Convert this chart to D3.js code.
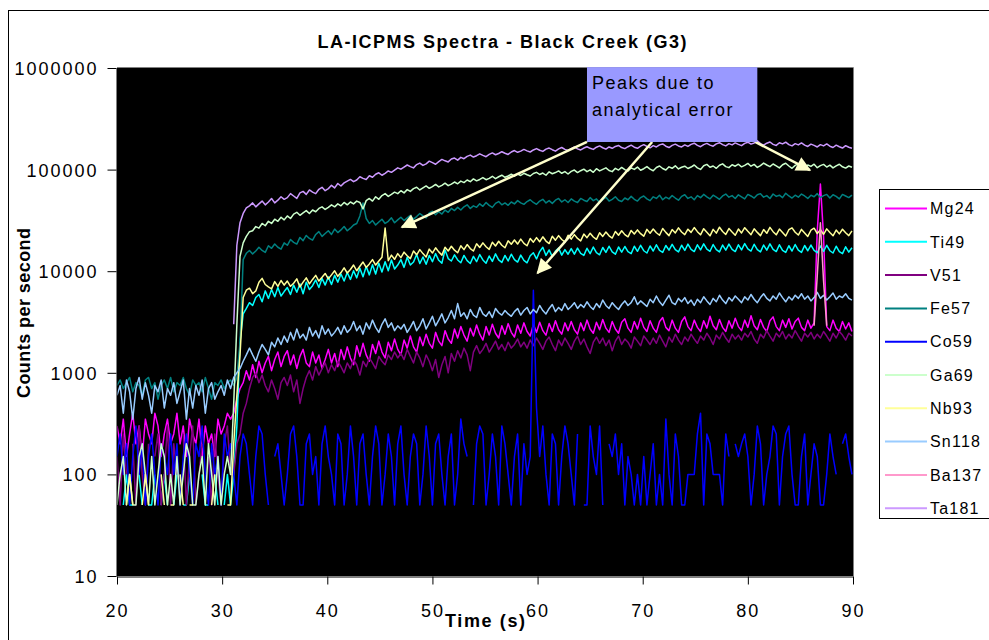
<!DOCTYPE html>
<html>
<head>
<meta charset="utf-8">
<title>LA-ICPMS Spectra - Black Creek (G3)</title>
<script src="https://cdn.jsdelivr.net/npm/d3@7"></script>
<style>
  html, body { margin: 0; padding: 0; background: #fff; }
  svg { display: block; font-family: "Liberation Sans", Arial, Helvetica, sans-serif; }
</style>
</head>
<body>
<svg id="chart" width="989" height="640"></svg>
<script>
// Acquisition clock: one sweep every 0.3 s starting at 20 s.
const sweepStart = 20.0;
const sweepStep = 0.3;

const xTicks = [20, 30, 40, 50, 60, 70, 80, 90];
const yTicks = [10, 100, 1000, 10000, 100000, 1000000];

const isotopes = ["Mg24", "Ti49", "V51", "Fe57", "Co59", "Ga69", "Nb93", "Sn118", "Ba137", "Ta181"];
const isotopeColors = ["#FF00FF", "#00FFFF", "#800080", "#008080", "#0000FF",
                       "#CCFFCC", "#FFFF99", "#99CCFF", "#FF99CC", "#CC99FF"];

// Counts per second for each sweep (0 = no counts, not drawn on the log axis).
const mg24 = [
  300,200,350,150,250,400,200,300,150,350,250,200,400,300,150,250,350,200,
  250,400,200,300,150,350,250,200,350,150,300,200,250,150,350,250,300,400,
  350,400,550,700,800,1050,850,1200,900,1300,1000,1250,1450,1050,1350,1600,1150,1450,
  1650,1200,1500,1100,1450,1700,1250,1150,1600,1250,1500,1100,1350,1700,1250,1550,1150,1700,
  1350,1800,1400,1200,1850,1450,1950,1500,1300,1900,1550,2050,1600,1400,2000,1650,2150,1700,
  1500,2100,1750,2300,1800,1600,2250,1850,2400,1950,1750,2500,2050,1850,2600,2150,1950,2700,
  2200,2850,2350,2050,2750,2300,2950,2400,2100,2850,2350,3000,2450,2200,2900,2400,3050,2500,
  2250,2950,2450,3100,2550,2300,3000,2500,3150,2600,2350,3050,2550,3250,2650,2400,3100,2600,
  3200,2650,2400,3100,2600,3300,2700,2450,3150,2650,3350,2750,2500,3200,2700,2450,3150,3400,
  2750,2500,3200,2700,3450,2800,2550,3250,2750,2500,3200,3500,2800,2600,3300,2750,2500,3200,
  3550,2850,2600,3300,2800,2550,3250,2750,3600,2900,2650,3350,2800,2550,3250,2750,3450,2850,
  2600,3300,2800,3650,2900,2650,3350,2800,2550,3250,3550,2850,2600,3300,2800,3400,2700,3200,
  3450,2800,2600,3300,2750,3100,25000,72000,22000,2850,2600,3300,2750,2550,3200,2700,3100,2550
];

const ti49 = [
  50,0,50,100,50,50,0,100,50,0,50,50,100,0,50,100,50,0,
  50,100,0,50,50,100,0,50,0,100,50,50,0,100,50,0,50,100,
  50,100,300,2000,3800,4300,4900,4600,5500,5900,5000,6400,5400,6600,5600,6900,5700,6300,
  6900,5900,7300,6200,7500,6000,7800,6600,7200,8200,6900,8500,7300,8800,7400,9100,7800,9400,
  8000,9700,8300,10100,8600,10700,8800,11100,9200,11600,9400,12000,9800,12400,10100,12900,10500,11500,
  13000,10900,13700,11500,12300,14600,11900,13800,11700,14300,12400,14900,12800,12000,16200,13300,12600,14500,
  12900,12100,14300,12700,11900,14000,12400,14600,12900,12000,14100,12500,14800,12900,12200,14300,12600,14700,
  13000,12300,14400,12800,12100,14200,15200,13200,15600,17200,14300,16200,13900,15800,16900,14400,16300,14700,
  16700,14700,16900,15000,14300,16800,14900,17300,15200,14500,17100,15300,17600,15500,14700,17300,15400,17500,
  15600,14900,17600,15700,18000,15900,15100,17700,15800,18200,16000,15300,17900,16100,18400,16300,15500,18000,
  16000,18500,16400,15600,18200,16200,18600,16500,15700,18300,16300,15500,18100,16100,18500,16400,15600,18200,
  16200,18700,16600,15800,18400,16300,15500,18100,16100,18600,16400,15600,18200,16000,15300,17800,15800,18300,
  16100,15300,17900,15900,18100,16000,15200,17700,15700,18000,15900,15100,17600,15600,14900,17400,15400,17000
];

const v51 = [
  150,50,250,100,0,200,50,300,100,50,200,0,150,250,50,100,300,50,
  200,100,0,250,50,150,300,50,100,200,0,150,50,250,100,50,200,300,
  100,100,200,250,400,500,700,900,1000,800,950,750,650,850,700,550,800,900,
  750,950,650,850,500,700,900,1050,850,1150,950,1100,1250,1000,1200,1050,1300,1150,
  1000,1250,1100,1350,1200,950,1300,1150,1400,1250,1100,1450,1300,1200,1500,1350,1600,1400,
  1550,1350,1700,1450,1250,1600,1400,1150,1500,1300,1050,1350,900,1200,1450,1000,1550,1300,
  1650,1400,1750,1500,1050,1600,1850,1550,1700,1950,1600,1800,2050,1700,1900,1650,2000,1750,
  1900,2150,1800,2000,1750,2100,1850,2200,1950,1700,2050,2250,1900,1650,2100,1850,2200,1950,
  1700,2050,2300,1900,2150,1800,1550,2000,2250,1950,2200,1850,2100,1650,2050,2300,1900,2150,
  2000,1750,2250,2050,1850,2300,2100,1900,2200,1950,2350,2050,1800,2250,2000,2400,2100,1900,
  2250,2050,2400,2150,1950,2300,2100,2450,2200,1900,2350,2150,2500,2200,2000,2400,2150,2350,
  2100,2450,2250,2550,2150,1950,2400,2200,2600,2300,2050,2450,2250,2550,2150,2400,2200,2600,
  2300,2050,2450,2250,2500,2150,2400,2200,2550,2300,2050,2450,2200,2550,2350,2100,2450,2300
];

const fe57 = [
  750,850,700,800,900,650,800,750,600,850,900,700,800,550,750,850,700,900,
  650,800,750,900,700,600,850,750,800,650,900,700,550,800,750,850,700,800,
  850,750,900,2000,13000,15000,16000,14800,15800,17200,16000,15300,17800,16800,18500,17200,16500,19000,
  18000,20500,19200,18500,21500,20000,22500,21000,20200,23000,24500,22000,23500,25000,23000,26000,24000,25500,
  27500,25000,26500,28500,29500,35000,47000,33000,29500,31500,28500,30500,32500,29500,31000,33500,30000,32000,
  34000,31500,33500,35500,32500,34500,37000,35000,33500,37500,39000,36000,38500,36500,40000,38000,41500,39500,
  42500,40000,43000,45000,41500,44000,42500,46000,43500,47500,44500,42500,46500,48500,45000,47000,44500,48000,
  46000,49500,47000,45500,48500,50500,47500,45500,49000,51000,47000,49500,46500,50000,52000,48000,50500,47500,
  51500,49000,47500,52000,50000,48500,53000,49500,51500,47500,50500,53500,49000,51000,54000,50000,48500,52500,
  50500,54500,51000,49000,53000,55000,51500,49500,54000,52000,56000,50500,53500,51500,55500,52500,50000,54500,
  56500,52000,54000,50500,55500,53000,57000,54000,51500,56000,53500,51000,55000,57500,53500,55500,52000,56500,
  54000,51500,57000,55000,52500,56500,58000,53500,55500,52000,57500,54500,56000,53000,58500,55000,52500,56000,
  53500,57500,55000,52000,56000,54000,58000,53000,55500,57000,52500,56500,54500,51500,57000,55000,53000,56000
];

const co59 = [
  150,250,100,200,50,150,300,100,200,50,150,250,100,50,200,150,100,250,
  100,200,50,150,250,100,50,200,150,300,100,50,200,100,150,50,250,150,
  200,100,50,150,250,200,100,50,150,300,250,100,50,0,150,200,100,50,
  100,250,300,150,50,50,200,250,100,150,50,200,300,150,100,50,250,200,
  50,100,300,150,50,200,250,100,50,150,300,200,50,100,250,150,50,200,
  300,100,50,150,250,200,50,100,300,150,50,200,250,100,50,150,250,50,
  100,350,200,150,0,50,200,300,250,50,100,250,150,50,300,200,100,50,
  150,250,50,200,100,150,6500,450,150,300,100,50,250,200,50,150,300,200,
  100,50,250,0,50,50,300,150,100,300,50,0,200,150,250,100,200,50,
  150,100,50,100,50,150,50,100,200,50,100,50,350,100,50,250,150,50,
  50,100,100,100,250,400,50,250,200,100,100,100,50,250,150,0,200,150,
  200,250,150,50,100,300,200,50,100,150,300,250,50,150,250,300,100,50,
  50,150,250,50,100,200,150,50,50,100,250,150,100,0,200,250,150,100
];

const ga69 = [
  50,100,150,50,100,50,50,150,200,100,50,150,50,100,200,150,50,100,
  50,150,50,100,200,150,50,50,100,150,50,200,100,50,150,50,100,150,
  100,500,3000,14000,19000,22000,24500,25000,27500,26500,29500,28000,31000,29500,32500,31000,34000,32000,
  35000,33000,36500,38000,35500,37500,39500,37000,40000,38500,41500,43000,40500,42500,45000,43000,46000,44000,
  47500,45000,48000,46000,49000,47500,41000,49500,52000,49000,54000,51000,55500,58000,54500,57000,60000,58000,
  62000,59000,63500,61000,65000,67000,63000,66000,69000,65500,68000,71500,67500,70000,73500,69500,72000,75500,
  72500,77000,74500,79000,76000,81000,77500,80000,83500,79500,82000,86000,81500,85000,88000,84000,86500,90000,
  86000,90500,87500,92000,89000,86500,91500,94000,89500,92500,88000,95000,91000,93500,97000,92000,95500,90500,
  96000,99000,93500,97500,101000,95500,99500,94000,102000,97000,100500,104000,98000,95500,103000,99000,105000,100000,
  97000,104000,100500,106000,98500,102000,107000,101000,97500,105000,108500,102500,99000,106500,103000,109000,101500,105500,
  108000,102500,106000,111000,104000,100500,109000,112500,105500,108500,103000,110500,114000,107000,104500,111500,108000,113000,
  106500,110000,115000,108000,112500,105000,109500,116000,111000,107000,113500,109000,104000,111500,115500,108500,103000,110000,
  114000,108500,105000,111000,107500,113000,104500,109500,112500,106000,110500,104000,109000,113000,106500,103500,108500,105500
];

const nb93 = [
  0,50,0,50,100,50,0,0,50,100,50,0,50,0,100,50,0,50,
  50,0,100,50,0,50,50,0,100,0,50,0,50,100,0,50,0,50,
  50,200,600,1500,5500,6500,6800,6000,6400,7800,8500,7400,7000,6700,7900,7100,8100,7300,
  8000,7100,7600,8400,7000,7800,8600,7500,8300,9100,8000,8700,9500,8400,9200,10100,8900,9700,
  10800,9600,10400,11500,10100,11200,12300,10900,11800,13000,11500,12600,13700,26600,12700,14400,13100,14900,
  13600,15400,14200,13300,15800,14500,16300,14900,13800,16500,15100,17000,15500,14400,17200,15800,17600,16100,
  15200,17800,16300,18300,16700,15800,18600,17100,19000,17400,16400,19300,17700,19700,18000,17000,19900,18400,
  20300,18500,20700,18800,17800,21000,19300,21400,19500,21800,19800,18700,22100,20200,22400,20500,19400,22600,
  20700,22900,21000,19900,23200,21400,23600,21700,20600,23900,22000,24300,22300,21200,24600,22600,25000,22900,
  21800,25200,23200,25500,23400,22100,25800,23600,26000,23900,22600,26300,24100,22400,25700,23800,26700,24300,
  22900,25900,24100,26900,24500,22800,26200,24200,22300,25800,23700,27100,24600,23000,26300,24300,22600,26000,
  23800,26800,24700,22900,26100,24100,22400,25700,23600,27000,24500,22800,26000,24000,22200,25600,26700,24200,
  22700,25800,23800,22000,25300,26500,23500,25600,23100,26100,24000,22300,25400,23300,25900,23900,22400,24900
];

const sn118 = [
  600,750,400,850,650,350,700,900,550,800,600,400,750,650,850,450,700,600,
  800,500,650,850,350,700,450,750,600,850,400,700,800,550,650,750,600,850,
  700,900,1000,1100,1300,1500,1750,1500,1300,1600,1900,1700,1500,2000,1800,2200,1900,2300,
  2000,2500,2100,2700,2200,2400,2100,2800,2300,2600,2200,2900,2400,2700,2300,2500,2800,2400,
  2900,2500,2700,3200,2600,2900,2400,3100,2700,3300,2800,2500,3000,3400,2800,3100,2600,2900,
  2700,3000,2500,2800,3200,2600,2900,3400,2700,3100,3600,2900,3300,3800,3100,3500,4100,3400,
  4800,3600,3900,3400,4200,3700,3500,4400,3800,3600,4000,3500,4300,3900,3700,4100,3800,3600,
  4000,4300,3700,4100,4400,3800,4200,3900,4600,4100,3800,4300,4700,4000,4400,4100,4800,4200,
  4500,4900,4300,4700,4400,5000,4500,4200,4800,4400,5200,4600,4300,4900,4500,4200,4700,5100,
  4600,4900,5600,4700,5100,4800,4500,5300,4900,5700,5000,4600,5200,5800,4900,4700,5400,5000,
  5500,4800,5200,4600,5300,4900,5600,5100,4700,5400,5000,5800,5200,4800,5500,5100,5700,5300,
  4900,5600,5200,5900,5300,4900,5500,6000,5400,5100,5700,5300,6100,5500,5000,5600,5200,5800,
  5400,6000,5300,5700,5100,5500,6200,5400,5800,5200,5600,6100,5300,5700,5500,6000,5400,5200
];

const ba137 = [
  0,0,0,0,0,0,0,0,0,0,0,0,0,0,0,0,0,0,
  0,0,0,0,0,0,0,0,0,0,0,0,0,0,0,0,0,0,
  0,0,0,0,0,0,0,0,0,0,0,0,0,0,0,0,0,0,
  0,0,0,0,0,0,0,0,0,0,0,0,0,0,0,0,0,0,
  0,0,0,0,0,0,0,0,0,0,0,0,0,0,0,0,0,0,
  0,0,0,0,0,0,0,0,0,0,0,0,0,0,0,0,0,0,
  0,0,0,0,0,0,0,0,0,0,0,0,0,0,0,0,0,0,
  0,0,0,0,0,0,0,0,0,0,0,0,0,0,0,0,0,0,
  0,0,0,0,0,0,0,0,0,0,0,0,0,0,0,0,0,0,
  0,0,0,0,0,0,0,0,0,0,0,0,0,0,0,0,0,0,
  0,0,0,0,0,0,0,0,0,0,0,0,0,0,0,0,0,0,
  0,0,0,0,0,0,0,0,0,0,0,0,0,0,0,0,0,0,
  0,0,0,0,0,2900,9000,30000,8000,2900,0,0,0,0,0,0,0,0
];

const ta181 = [
  0,0,0,0,0,0,0,0,0,0,0,0,0,0,0,0,0,0,
  0,0,0,0,0,0,0,0,0,0,0,0,0,0,0,0,0,0,
  0,3000,18000,30000,37000,42000,44000,47000,43000,46000,49000,45000,48000,52000,47000,50000,54000,51000,
  53000,58000,55000,52000,59000,61000,57000,63000,60000,58000,64000,67000,62000,65000,70000,66000,73000,69000,
  74000,77000,80000,76000,79000,85000,82000,80000,87000,84000,90000,93000,88000,92000,97000,94000,99000,104000,
  101000,106000,111000,107000,104000,112000,116000,110000,114000,121000,117000,113000,120000,126000,122000,119000,127000,130000,
  124000,132000,128000,135000,139000,133000,137000,143000,138000,134000,141000,146000,140000,144000,150000,145000,141000,149000,
  154000,148000,152000,158000,153000,149000,156000,161000,155000,151000,159000,163000,157000,152000,160000,165000,158000,154000,
  161000,167000,160000,156000,163000,168000,162000,158000,166000,171000,164000,159000,167000,162000,169000,173000,165000,161000,
  168000,174000,166000,162000,170000,176000,169000,164000,172000,167000,175000,179000,170000,165000,173000,178000,171000,167000,
  175000,169000,177000,182000,173000,168000,176000,181000,174000,170000,179000,184000,176000,171000,180000,175000,183000,177000,
  172000,181000,186000,178000,183000,192000,180000,174000,182000,187000,177000,173000,184000,179000,186000,176000,171000,180000,
  175000,183000,174000,169000,178000,173000,167000,176000,171000,179000,170000,165000,174000,168000,163000,172000,166000,162000
];

const countsByIsotope = [mg24, ti49, v51, fe57, co59, ga69, nb93, sn118, ba137, ta181];

// Callout pointing at the spikes (time in s, counts per second).
const calloutLines = ["Peaks due to", "analytical error"];
const calloutBox = { t0: 64.7, t1: 80.9, cTop: 1020000, cBottom: 187000 };
const calloutArrows = [
  { fromT: 64.7, toT: 47.1, toC: 27200 },
  { fromT: 70.9, toT: 60.0, toC: 9600 },
  { fromT: 80.7, toT: 85.9, toC: 99000 }
];

// ---------------------------------------------------------------------------
const series = isotopes.map((name, k) => ({
  name,
  color: isotopeColors[k],
  points: countsByIsotope[k].map((c, i) => ({ t: sweepStart + i * sweepStep, c }))
}));

const svg = d3.select("#chart");
const plot = { left: 117, right: 853, top: 68, bottom: 576 };

const x = d3.scaleLinear().domain([20, 90]).range([plot.left, plot.right]);
const y = d3.scaleLog().domain([10, 1000000]).range([plot.bottom, plot.top]);

// Chart area frame
svg.append("rect")
  .attr("x", 8.5).attr("y", 10.5).attr("width", 1000).attr("height", 700)
  .attr("fill", "#fff").attr("stroke", "#000").attr("stroke-width", 1);

// Title
svg.append("text")
  .attr("x", 502).attr("y", 48)
  .attr("text-anchor", "middle")
  .attr("font-size", 18).attr("font-weight", "bold")
  .attr("textLength", 369).attr("lengthAdjust", "spacing")
  .attr("fill", "#000")
  .text("LA-ICPMS Spectra - Black Creek (G3)");

// Plot area
svg.append("rect")
  .attr("x", plot.left).attr("y", plot.top)
  .attr("width", plot.right - plot.left).attr("height", plot.bottom - plot.top)
  .attr("fill", "#000");

svg.append("defs").append("clipPath").attr("id", "plot-clip")
  .append("rect")
  .attr("x", plot.left).attr("y", plot.top)
  .attr("width", plot.right - plot.left).attr("height", plot.bottom - plot.top);

const line = d3.line()
  .defined(d => d.c > 0)
  .x(d => x(d.t))
  .y(d => y(d.c));

svg.append("g").attr("clip-path", "url(#plot-clip)")
  .selectAll("path")
  .data(series)
  .join("path")
  .attr("d", d => line(d.points))
  .attr("fill", "none")
  .attr("stroke", d => d.color)
  .attr("stroke-width", 1.5)
  .attr("stroke-linejoin", "round");

// Plot area border (top and right edges in grey)
svg.append("path")
  .attr("d", `M${plot.left},${plot.top - 0.5}H${plot.right + 0.5}V${plot.bottom}`)
  .attr("fill", "none").attr("stroke", "#808080").attr("stroke-width", 1);

// Axes
const yAxis = d3.axisLeft(y).tickValues(yTicks).tickFormat(d3.format("d"))
  .tickSize(9).tickSizeOuter(0);
const gy = svg.append("g")
  .attr("transform", `translate(${plot.left - 0.5},0)`)
  .call(yAxis)
  .attr("font-size", null).attr("font-family", null);
gy.select(".domain").attr("stroke", "#000");
gy.selectAll(".tick line").attr("stroke", "#000");
gy.selectAll(".tick text")
  .attr("x", -18).attr("dy", "0.36em")
  .attr("font-size", 18).attr("letter-spacing", "2px").attr("fill", "#000");

const xAxis = d3.axisBottom(x).tickValues(xTicks).tickFormat(d3.format("d"))
  .tickSize(8).tickSizeOuter(0);
const gx = svg.append("g")
  .attr("transform", `translate(0,${plot.bottom + 0.5})`)
  .call(xAxis)
  .attr("font-size", null).attr("font-family", null);
gx.select(".domain").attr("stroke", "#000");
gx.selectAll(".tick line").attr("stroke", "#000");
gx.selectAll(".tick text")
  .attr("y", 40).attr("dy", 0)
  .attr("font-size", 18).attr("letter-spacing", "2px").attr("fill", "#000");

// Axis titles
svg.append("text")
  .attr("x", 445).attr("y", 627)
  .attr("font-size", 18).attr("font-weight", "bold")
  .attr("textLength", 80).attr("lengthAdjust", "spacing")
  .attr("fill", "#000")
  .text("Time (s)");

svg.append("text")
  .attr("transform", "translate(30,313) rotate(-90)")
  .attr("text-anchor", "middle")
  .attr("font-size", 18).attr("font-weight", "bold")
  .attr("textLength", 170).attr("lengthAdjust", "spacing")
  .attr("fill", "#000")
  .text("Counts per second");

// Legend
const legend = svg.append("g");
legend.append("rect")
  .attr("x", 879.5).attr("y", 189.5).attr("width", 200).attr("height", 329)
  .attr("fill", "#fff").attr("stroke", "#000");
const entry = legend.selectAll("g.entry")
  .data(series)
  .join("g").attr("class", "entry")
  .attr("transform", (d, i) => `translate(0,${208.5 + i * 33.3})`);
entry.append("line")
  .attr("x1", 885).attr("x2", 927)
  .attr("stroke", d => d.color).attr("stroke-width", 2);
entry.append("text")
  .attr("x", 930).attr("dy", "0.36em")
  .attr("font-size", 16).attr("letter-spacing", "1.2px").attr("fill", "#000")
  .text(d => d.name);

// Callout with arrows
const arrowColor = "#FFFFCC";
svg.select("defs").append("marker")
  .attr("id", "arrow-head")
  .attr("viewBox", "0 0 10 10")
  .attr("refX", 9).attr("refY", 5)
  .attr("markerWidth", 16).attr("markerHeight", 15)
  .attr("markerUnits", "userSpaceOnUse")
  .attr("orient", "auto")
  .append("path").attr("d", "M0,0L10,5L0,10Z").attr("fill", arrowColor);

const bx0 = x(calloutBox.t0), bx1 = x(calloutBox.t1);
const by0 = y(calloutBox.cTop), by1 = y(calloutBox.cBottom);

svg.append("g").selectAll("line")
  .data(calloutArrows)
  .join("line")
  .attr("x1", d => x(d.fromT)).attr("y1", by1)
  .attr("x2", d => x(d.toT)).attr("y2", d => y(d.toC))
  .attr("stroke", arrowColor).attr("stroke-width", 2.5)
  .attr("marker-end", "url(#arrow-head)");

svg.append("rect")
  .attr("x", bx0).attr("y", by0)
  .attr("width", bx1 - bx0).attr("height", by1 - by0)
  .attr("fill", "#9999FF");

svg.append("g").selectAll("text")
  .data(calloutLines)
  .join("text")
  .attr("x", bx0 + 5).attr("y", (d, i) => by0 + 22 + i * 27)
  .attr("font-size", 18).attr("letter-spacing", "1.5px").attr("fill", "#000")
  .text(d => d);
</script>
</body>
</html>
